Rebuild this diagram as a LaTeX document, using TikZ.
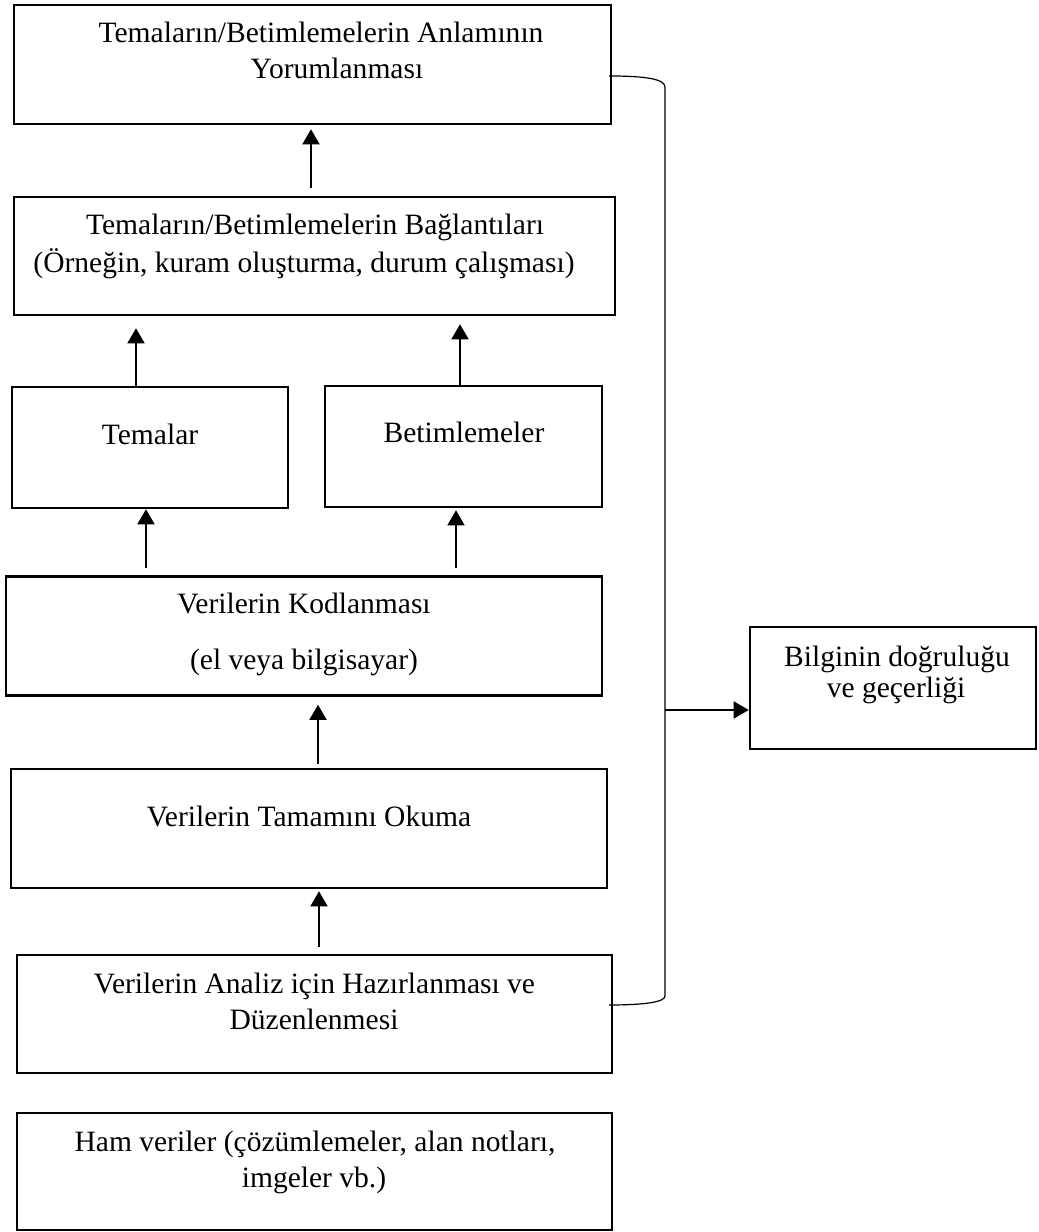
\documentclass[tikz,border=0pt]{standalone}
\usepackage{fontspec}
\setmainfont{Liberation Serif}
\usetikzlibrary{arrows.meta}

\begin{document}
\begin{tikzpicture}[
  box/.style={draw, line width=0.06cm, rectangle, inner sep=0pt},
  txt/.style={anchor=base, inner sep=0pt, font=\fontsize{21}{24}\selectfont},
  flow/.style={line width=0.065cm, -{Triangle[length=0.38cm,width=0.42cm]}}
]
\useasboundingbox (0cm,0cm) rectangle (25.95cm,30.8cm);
% boxes
\node[box, minimum width=14.925cm, minimum height=2.975cm] (interp) at (7.8125cm,29.1875cm) {};
\node[box, minimum width=15.025cm, minimum height=2.95cm] (links) at (7.8625cm,24.4cm) {};
\node[box, minimum width=6.9cm, minimum height=3.025cm] (themes) at (3.75cm,19.6125cm) {};
\node[box, minimum width=6.925cm, minimum height=3.025cm] (descr) at (11.5875cm,19.6375cm) {};
\node[box, minimum width=14.9cm, minimum height=2.975cm] (coding) at (7.6cm,14.9cm) {};
\node[box, minimum width=14.9cm, minimum height=2.975cm] (reading) at (7.725cm,10.0875cm) {};
\node[box, minimum width=14.875cm, minimum height=2.95cm] (prep) at (7.8625cm,5.45cm) {};
\node[box, minimum width=14.875cm, minimum height=2.925cm] (raw) at (7.8625cm,1.5125cm) {};
\node[box, minimum width=7.15cm, minimum height=3.05cm] (valid) at (22.325cm,13.6cm) {};
% texts
\node[txt] (interpA) at (8.025cm,29.725cm) {Temaların/Betimlemelerin Anlamının};
\node[txt] (interpB) at (8.425cm,28.825cm) {Yorumlanması};
\node[txt] (linksA) at (7.875cm,24.925cm) {Temaların/Betimlemelerin Bağlantıları};
\node[txt] (linksB) at (7.6cm,23.975cm) {(Örneğin, kuram oluşturma, durum çalışması)};
\node[txt] (themesA) at (3.75cm,19.675cm) {Temalar};
\node[txt] (descrA) at (11.6cm,19.725cm) {Betimlemeler};
\node[txt] (codingA) at (7.6cm,15.45cm) {Verilerin Kodlanması};
\node[txt] (codingB) at (7.6cm,14.05cm) {(el veya bilgisayar)};
\node[txt] (readingA) at (7.725cm,10.125cm) {Verilerin Tamamını Okuma};
\node[txt] (prepA) at (7.8625cm,5.95cm) {Verilerin Analiz için Hazırlanması ve};
\node[txt] (prepB) at (7.85cm,5.05cm) {Düzenlenmesi};
\node[txt] (rawA) at (7.875cm,2cm) {Ham veriler (çözümlemeler, alan notları,};
\node[txt] (rawB) at (7.85cm,1.1cm) {imgeler vb.)};
\node[txt] (validA) at (22.425cm,14.125cm) {Bilginin doğruluğu};
\node[txt] (validB) at (22.4cm,13.35cm) {ve geçerliği};
% upward arrows
\coordinate (p1) at ([xshift=0.1125cm,yshift=0.175cm]prep.north);
\coordinate (p2) at ([xshift=0.225cm,yshift=0.1cm]reading.north);
\coordinate (p3) at ([xshift=-3.95cm,yshift=0.175cm]coding.north);
\coordinate (p4) at ([xshift=3.8cm,yshift=0.175cm]coding.north);
\coordinate (p5) at ([xshift=-0.35cm]themes.north);
\coordinate (p6) at ([xshift=-0.0875cm]descr.north);
\coordinate (p7) at ([xshift=-0.0875cm,yshift=0.2cm]links.north);
\draw[flow, shorten >=0.05cm] (p1) -- (p1 |- reading.south);
\draw[flow, shorten >=0.2cm] (p2) -- (p2 |- coding.south);
\draw[flow] (p3) -- (p3 |- themes.south);
\draw[flow, shorten >=0.05cm] (p4) -- (p4 |- descr.south);
\draw[flow, shorten >=0.3cm] (p5) -- (p5 |- links.south);
\draw[flow, shorten >=0.2cm] (p6) -- (p6 |- links.south);
\draw[flow, shorten >=0.1cm] (p7) -- (p7 |- interp.south);
% bracket to the right
\coordinate (brtop) at ([xshift=-0.075cm,yshift=-0.2875cm]interp.east);
\coordinate (brbot) at ([xshift=-0.1cm,yshift=0.225cm]prep.east);
\draw[line width=0.03cm] (brtop) .. controls (16.125cm,28.9cm) and (16.625cm,28.825cm) .. (16.625cm,28.625cm)
  -- (16.625cm,5.9cm) .. controls (16.625cm,5.75cm) and (16.125cm,5.675cm) .. (brbot);
\coordinate (br) at (16.625cm,13.05cm);
\draw[flow] (br) -- (br -| valid.west);
\end{tikzpicture}
\end{document}
